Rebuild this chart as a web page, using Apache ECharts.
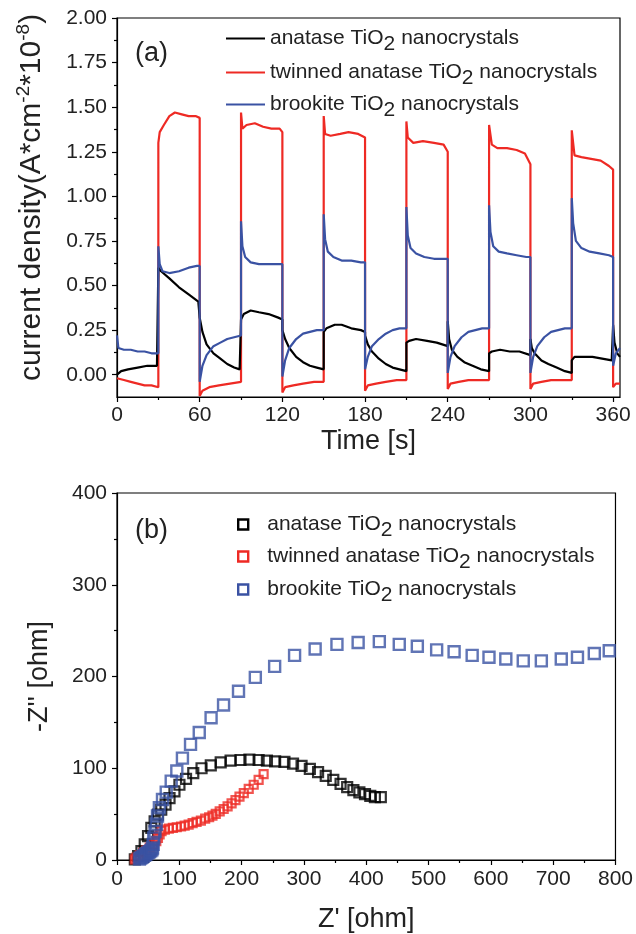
<!DOCTYPE html>
<html>
<head>
<meta charset="utf-8">
<script src="https://cdn.jsdelivr.net/npm/echarts@6/dist/echarts.min.js"></script>
<style>
html, body { margin: 0; padding: 0; background: #fff; }
#main { width: 636px; height: 934px; }
</style>
</head>
<body>
<div id="main"></div>
<script>
// series names (legend text)
var names = ['anatase TiO2 nanocrystals', 'twinned anatase TiO2 nanocrystals', 'brookite TiO2 nanocrystals'];
var colors = ['#000000', '#ee2a24', '#3a52a3'];

// (a) photocurrent vs time
var tTicks = [0, 60, 120, 180, 240, 300, 360];
var tMinor = [30, 90, 150, 210, 270, 330];
var jTicks = [0, 0.25, 0.5, 0.75, 1.0, 1.25, 1.5, 1.75, 2.0];
var jMinor = [0.125, 0.375, 0.625, 0.875, 1.125, 1.375, 1.625, 1.875];

var anataseT = [0, 3, 8, 15, 22, 29, 30, 30, 32, 38, 45, 52, 59, 60,
  60, 62, 65, 70, 75, 80, 85, 89, 90, 90, 92, 97, 103, 110, 117, 120,
  120, 122, 125, 130, 135, 140, 145, 150, 150, 152, 158, 163, 170, 177, 180,
  180, 182, 185, 190, 195, 200, 205, 210, 210, 212, 217, 225, 232, 240,
  240, 241, 243, 247, 252, 258, 264, 270, 270, 272, 278, 285, 292, 300,
  300, 301, 303, 308, 313, 319, 325, 330, 330, 332, 338, 345, 352, 359, 360,
  360, 361, 363, 365];
var anataseJ = [0.00, 0.02, 0.03, 0.04, 0.05, 0.05, 0.05, 0.60, 0.58, 0.54, 0.49, 0.45, 0.41, 0.40,
  0.32, 0.24, 0.17, 0.12, 0.09, 0.06, 0.04, 0.03, 0.03, 0.31, 0.34, 0.36, 0.35, 0.34, 0.32, 0.31,
  0.25, 0.20, 0.15, 0.10, 0.07, 0.05, 0.04, 0.03, 0.24, 0.26, 0.28, 0.28, 0.26, 0.25, 0.24,
  0.22, 0.17, 0.13, 0.09, 0.06, 0.04, 0.03, 0.02, 0.18, 0.19, 0.20, 0.19, 0.18, 0.16,
  0.30, 0.20, 0.14, 0.10, 0.07, 0.05, 0.03, 0.02, 0.12, 0.13, 0.14, 0.13, 0.13, 0.11,
  0.20, 0.15, 0.12, 0.08, 0.06, 0.04, 0.02, 0.01, 0.08, 0.10, 0.10, 0.10, 0.09, 0.08, 0.08,
  0.28, 0.18, 0.12, 0.10];

var twinnedT = [0, 5, 10, 15, 20, 25, 30, 30, 31, 34, 38, 42, 47, 52, 57, 60,
  60, 62, 67, 74, 82, 90, 90, 91, 94, 100, 106, 112, 118, 120,
  120, 122, 128, 135, 143, 150, 150, 151, 155, 162, 168, 175, 180,
  180, 182, 188, 195, 203, 210, 210, 211, 215, 222, 230, 237, 240,
  240, 242, 248, 255, 263, 270, 270, 272, 276, 283, 290, 296, 300,
  300, 302, 308, 315, 323, 330, 330, 332, 337, 344, 351, 357, 360,
  360, 362, 365];
var twinnedJ = [-0.02, -0.03, -0.04, -0.05, -0.06, -0.06, -0.07, 1.30, 1.36, 1.40, 1.45, 1.47, 1.46, 1.45, 1.45, 1.44,
  -0.12, -0.09, -0.07, -0.06, -0.05, -0.04, 1.47, 1.38, 1.40, 1.41, 1.39, 1.38, 1.38, 1.36,
  -0.10, -0.07, -0.06, -0.05, -0.04, -0.04, 1.45, 1.35, 1.34, 1.35, 1.36, 1.35, 1.33,
  -0.09, -0.06, -0.05, -0.04, -0.03, -0.03, 1.42, 1.33, 1.30, 1.31, 1.30, 1.29, 1.25,
  -0.08, -0.05, -0.04, -0.03, -0.03, -0.03, 1.40, 1.29, 1.27, 1.27, 1.26, 1.24, 1.18,
  -0.08, -0.05, -0.04, -0.03, -0.03, -0.03, 1.37, 1.23, 1.22, 1.21, 1.20, 1.17, 1.15,
  -0.07, -0.05, -0.05];

var brookiteT = [0, 1, 5, 10, 15, 20, 25, 30, 30, 31, 33, 38, 45, 52, 58, 60,
  60, 62, 65, 70, 75, 80, 85, 90, 90, 91, 93, 97, 103, 110, 117, 120,
  120, 122, 125, 130, 135, 140, 145, 150, 150, 151, 153, 157, 163, 170, 177, 180,
  180, 182, 185, 190, 195, 200, 205, 210, 210, 211, 213, 217, 223, 230, 237, 240,
  240, 242, 245, 250, 255, 260, 265, 270, 270, 271, 273, 277, 283, 290, 297, 300,
  300, 302, 305, 310, 315, 320, 325, 330, 330, 331, 333, 337, 343, 350, 357, 360,
  360, 362, 365];
var brookiteJ = [0.22, 0.15, 0.14, 0.14, 0.13, 0.13, 0.12, 0.12, 0.72, 0.62, 0.58, 0.57, 0.58, 0.60, 0.61, 0.61,
  -0.04, 0.05, 0.11, 0.16, 0.18, 0.20, 0.21, 0.22, 0.86, 0.72, 0.66, 0.63, 0.62, 0.62, 0.62, 0.62,
  -0.01, 0.08, 0.15, 0.20, 0.23, 0.24, 0.25, 0.25, 0.90, 0.76, 0.69, 0.66, 0.64, 0.64, 0.63, 0.63,
  0.03, 0.10, 0.16, 0.20, 0.23, 0.25, 0.26, 0.26, 0.94, 0.78, 0.71, 0.68, 0.66, 0.65, 0.65, 0.65,
  0.01, 0.10, 0.16, 0.21, 0.24, 0.25, 0.26, 0.26, 0.95, 0.80, 0.72, 0.69, 0.68, 0.67, 0.66, 0.66,
  0.01, 0.10, 0.16, 0.21, 0.24, 0.25, 0.26, 0.26, 0.99, 0.85, 0.75, 0.71, 0.69, 0.68, 0.67, 0.66,
  0.05, 0.12, 0.15];

// (b) Nyquist plot
var zTicksMinorSplit = 2;
var anataseRe = [28.6, 33.9, 39.2, 44.5, 49.8, 55.1, 60.4, 65.7, 71, 77.9,
  84.3, 92.2, 100.2, 110.8, 122.4, 135.7, 150.5, 166.4, 182.3, 198.2,
  212.5, 227.3, 240.6, 253.8, 268.7, 282.5, 296.2, 309.5, 322.7, 335,
  347.1, 358.8, 369.4, 379.4, 389, 398, 406.5, 413.9, 423.4];
var anataseIm = [0.7, 4.3, 9.7, 17, 26, 35, 42.2, 49.5, 54.9, 60.3,
  67.5, 74.7, 82, 88.4, 94.6, 100, 103.2, 106.5, 108.3, 109,
  109.4, 109, 108.3, 107.6, 106.9, 105, 102.5, 99.3, 95.7, 91.7,
  87.4, 83, 79.4, 76.2, 73.6, 71.8, 70, 68.6, 68.6];
var twinnedRe = [28.6, 31.3, 36.6, 41.9, 47.2, 52.5, 57.8, 63.1, 65.7, 68.4, 71.5, 76.8,
  83.2, 89.6, 95.9, 102.8, 108.6, 115, 121.4, 127.7, 134.6, 141.5, 147.9, 153.2,
  158.5, 164.8, 171.2, 177.5, 183.9, 190.2, 196.6, 203.5, 211.4, 219.4, 227.3, 235.3];
var twinnedIm = [0.7, 2.5, 5.4, 7.9, 10.5, 13.4, 17, 20.6, 24.2, 27.8, 31.4, 33.2,
  34.3, 35, 35.7, 36.5, 37.5, 38.6, 40.1, 41.5, 43, 45.1, 46.6, 48.4,
  50.2, 53.1, 55.6, 58.5, 61.7, 65.3, 69, 72.9, 77.6, 82, 87.4, 93.5];
var brookiteRe = [36, 38, 40, 42, 44, 46, 48, 50, 52, 54, 56, 57, 58, 59, 61, 63, 65, 68, 73, 79,
  87, 96, 105, 118, 132, 151, 171, 195, 222, 253, 285, 318, 353, 387, 421, 453,
  482, 513, 541, 570, 597, 624, 652, 681, 713, 739, 766, 790];
var brookiteIm = [1, 2, 3, 4, 5, 6, 7, 8, 9, 10, 11, 13, 17, 24, 31, 39, 48, 57, 66, 74,
  86, 97, 111, 126, 139, 155, 169, 184, 199, 211, 223, 230, 235, 237, 238, 235,
  233, 229, 227, 223, 221, 219, 217, 217, 219, 221, 225, 228];

function zip(a, b) {
  return a.map(function (v, i) { return [v, b[i]]; });
}

var font = 'Liberation Sans, Arial, sans-serif';
var txt = '#222';
var tickStyle = { show: true, length: 5, lineStyle: { color: '#000', width: 1.2 } };
var lineAx = { show: true, onZero: false, lineStyle: { color: '#000', width: 1.2 } };
var noLine = { show: false, onZero: false };
var labelStyle = { color: txt, fontSize: 21, fontFamily: font, margin: 10 };

var legRich = {
  s: { fontSize: 21, fontFamily: font, color: txt, padding: [12, 0, 0, 0] },
  p: { width: 14 }
};
function legFmtLine(n) { return n.replace('TiO2', 'TiO{s|2}'); }
function legFmtBox(n) { return '{p|}' + n.replace('TiO2', 'TiO{s|2}'); }

var legends = [];
var lineTops = [23, 57, 89];
var boxTops = [509, 541, 574];
names.forEach(function (n, i) {
  legends.push({
    data: [n], orient: 'vertical', left: 221, top: lineTops[i],
    icon: 'rect', itemWidth: 39, itemHeight: 2, selectedMode: false,
    itemStyle: { color: colors[i], borderWidth: 0 },
    formatter: legFmtLine,
    textStyle: { fontSize: 21, fontFamily: font, color: txt, rich: legRich }
  });
  legends.push({
    data: [n], orient: 'vertical', left: 232, top: boxTops[i],
    icon: 'rect', itemWidth: 10, itemHeight: 10, selectedMode: false,
    itemStyle: { color: 'rgba(0,0,0,0)', borderColor: colors[i], borderWidth: 2.4 },
    formatter: legFmtBox,
    textStyle: { fontSize: 21, fontFamily: font, color: txt, rich: legRich }
  });
});

var chart = echarts.init(document.getElementById('main'));
chart.setOption({
  animation: false,
  backgroundColor: '#fff',
  grid: [
    { left: 117, right: 16, top: 18, height: 379, show: true, borderColor: '#000', borderWidth: 1.2 },
    { left: 117, right: 16, top: 493, height: 367, show: true, borderColor: '#000', borderWidth: 1.2 }
  ],
  legend: legends,
  graphic: [
    { type: 'text', left: 135, top: 40, style: { text: '(a)', fontSize: 27, fontFamily: font, fill: txt } },
    { type: 'text', left: 135, top: 517, style: { text: '(b)', fontSize: 27, fontFamily: font, fill: txt } }
  ],
  xAxis: [
    {
      gridIndex: 0, type: 'value', min: 0, max: 365, position: 'bottom',
      axisLine: lineAx, splitLine: { show: false },
      axisTick: Object.assign({ customValues: tTicks }, tickStyle),
      axisLabel: Object.assign({ customValues: tTicks }, labelStyle, { margin: 8 }),
      name: 'Time [s]', nameLocation: 'middle', nameGap: 31,
      nameTextStyle: { fontSize: 27, fontFamily: font, color: txt }
    },
    {
      gridIndex: 0, type: 'value', min: 0, max: 365, position: 'bottom', offset: 0,
      axisLine: noLine, splitLine: { show: false }, axisLabel: { show: false },
      axisTick: { show: true, length: 3, customValues: tMinor, lineStyle: { color: '#000', width: 1.2 } }
    },
    {
      gridIndex: 1, type: 'value', min: 0, max: 800, interval: 100,
      axisLine: lineAx, splitLine: { show: false },
      axisTick: tickStyle, axisLabel: Object.assign({}, labelStyle, { margin: 9 }),
      minorTick: { show: true, splitNumber: zTicksMinorSplit, length: 3, lineStyle: { color: '#000', width: 1.2 } },
      name: "Z' [ohm]", nameLocation: 'middle', nameGap: 46,
      nameTextStyle: { fontSize: 27, fontFamily: font, color: txt }
    }
  ],
  yAxis: [
    {
      gridIndex: 0, type: 'value', min: -0.125, max: 2, position: 'left',
      axisLine: lineAx, splitLine: { show: false },
      axisTick: Object.assign({ customValues: jTicks }, tickStyle),
      axisLabel: Object.assign({ customValues: jTicks, formatter: function (v) { return v.toFixed(2); } }, labelStyle),
      name: 'current density(A*cm{sup|-2}*10{sup|-8})', nameLocation: 'middle', nameGap: 68,
      nameTextStyle: {
        fontSize: 30, fontFamily: font, color: txt, padding: [0, 0, 0, 20],
        rich: { sup: { fontSize: 19, fontFamily: font, color: txt, padding: [0, 0, 16, 0] } }
      }
    },
    {
      gridIndex: 0, type: 'value', min: -0.125, max: 2, position: 'left', offset: 0,
      axisLine: noLine, splitLine: { show: false }, axisLabel: { show: false },
      axisTick: { show: true, length: 3, customValues: jMinor, lineStyle: { color: '#000', width: 1.2 } }
    },
    {
      gridIndex: 1, type: 'value', min: 0, max: 400, interval: 100,
      axisLine: lineAx, splitLine: { show: false },
      axisTick: tickStyle, axisLabel: labelStyle,
      minorTick: { show: true, splitNumber: zTicksMinorSplit, length: 3, lineStyle: { color: '#000', width: 1.2 } },
      name: "-Z'' [ohm]", nameLocation: 'middle', nameGap: 64,
      nameTextStyle: { fontSize: 27, fontFamily: font, color: txt }
    }
  ],
  series: [
    { name: names[1], type: 'line', xAxisIndex: 0, yAxisIndex: 0, showSymbol: false,
      data: zip(twinnedT, twinnedJ), lineStyle: { color: colors[1], width: 2.2 }, itemStyle: { color: colors[1] } },
    { name: names[0], type: 'line', xAxisIndex: 0, yAxisIndex: 0, showSymbol: false,
      data: zip(anataseT, anataseJ), lineStyle: { color: colors[0], width: 2.2 }, itemStyle: { color: colors[0] } },
    { name: names[2], type: 'line', xAxisIndex: 0, yAxisIndex: 0, showSymbol: false,
      data: zip(brookiteT, brookiteJ), lineStyle: { color: colors[2], width: 2.2 }, itemStyle: { color: colors[2] } },
    { name: names[0], type: 'scatter', xAxisIndex: 2, yAxisIndex: 2, symbol: 'rect', symbolSize: 10,
      data: zip(anataseRe, anataseIm), itemStyle: { color: 'rgba(0,0,0,0)', borderColor: colors[0], borderWidth: 2.2 } },
    { name: names[1], type: 'scatter', xAxisIndex: 2, yAxisIndex: 2, symbol: 'rect', symbolSize: 8,
      data: zip(twinnedRe, twinnedIm), itemStyle: { color: 'rgba(0,0,0,0)', borderColor: colors[1], borderWidth: 2.2 } },
    { name: names[2], type: 'scatter', xAxisIndex: 2, yAxisIndex: 2, symbol: 'rect', symbolSize: 11,
      data: zip(brookiteRe, brookiteIm), itemStyle: { color: 'rgba(0,0,0,0)', borderColor: colors[2], borderWidth: 2.4 } }
  ]
});
</script>
</body>
</html>
